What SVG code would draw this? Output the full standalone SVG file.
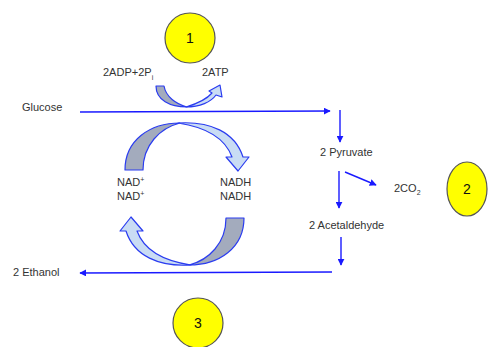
<svg xmlns="http://www.w3.org/2000/svg" width="488" height="347" viewBox="0 0 488 347">
<style>
.t{font-family:"Liberation Sans",Arial,sans-serif;font-size:11px;fill:#333}
.n{font-family:"Liberation Sans",Arial,sans-serif;font-size:14px;fill:#111;text-anchor:middle}
.c{fill:#ffff00;stroke:#555;stroke-width:1.2}
.ln{stroke:#1a1aff;stroke-width:1.4;fill:none}
.g{fill:#a3abbd;stroke:#2a3cf0;stroke-width:1.2;stroke-linejoin:round}
.lb{fill:#c9dcf4;stroke:#2a3cf0;stroke-width:1.2;stroke-linejoin:round}
</style>
<defs>
<marker id="ah" viewBox="0 0 10 10" refX="9" refY="5" markerWidth="7" markerHeight="7" orient="auto" markerUnits="userSpaceOnUse">
<path d="M0,0 L10,5 L0,10 Z" fill="#1a1aff"/>
</marker>
</defs>
<g id="connectors">
<line class="ln" x1="80" y1="112" x2="330" y2="111" marker-end="url(#ah)"/>
<line class="ln" x1="340" y1="110" x2="340" y2="142" marker-end="url(#ah)"/>
<line class="ln" x1="345" y1="172" x2="376" y2="185" marker-end="url(#ah)"/>
<line class="ln" x1="339" y1="171" x2="339" y2="208" marker-end="url(#ah)"/>
<line class="ln" x1="341" y1="237" x2="341" y2="265" marker-end="url(#ah)"/>
<line class="ln" x1="332" y1="272" x2="80" y2="273" marker-end="url(#ah)"/>
</g>
<g id="atp-arrow">
<path class="lb" d="M186,107 C200,107 211,102 216,95 L222,97 L220,85 L209,91 L212,93 C206,100 196,104 186,107 Z"/>
<path class="g" d="M156,86 C156,100 170,107 187,107 C176,104 166,97 164,86 Z"/>
</g>
<g id="nad-top-arrow">
<path class="lb" d="M232,157 L226,157 L238,171 L249,157 L243,157 C235,132 210,121 178,123 C205,127 225,138 232,157 Z"/>
<path class="g" d="M125,170 C125,140 150,123 180,123 C160,128 143,145 143,170 Z"/>
</g>
<g id="nad-bottom-arrow" transform="rotate(180 184.5 194)">
<path class="lb" d="M232,157 L226,157 L238,171 L249,157 L243,157 C235,132 210,121 178,123 C205,127 225,138 232,157 Z"/>
<path class="g" d="M125,170 C125,140 150,123 180,123 C160,128 143,145 143,170 Z"/>
</g>
<g id="circle1"><circle class="c" cx="190" cy="38" r="25"/><text class="n" x="190" y="43">1</text></g>
<g id="circle2"><ellipse class="c" cx="467" cy="189" rx="20" ry="27"/><text class="n" x="467" y="194">2</text></g>
<g id="circle3"><circle class="c" cx="198" cy="323" r="25"/><text class="n" x="198" y="328">3</text></g>
<g id="glucose"><text class="t" x="22" y="111">Glucose</text></g>
<g id="ethanol"><text class="t" x="13" y="276">2 Ethanol</text></g>
<g id="adp"><text class="t" x="103" y="76">2ADP+2P<tspan font-size="7" dy="4">i</tspan></text></g>
<g id="atp"><text class="t" x="202" y="76">2ATP</text></g>
<g id="nad"><text class="t" x="117" y="186">NAD<tspan font-size="7" dy="-4">+</tspan></text><text class="t" x="117" y="200">NAD<tspan font-size="7" dy="-4">+</tspan></text></g>
<g id="nadh"><text class="t" x="220" y="186">NADH</text><text class="t" x="220" y="200">NADH</text></g>
<g id="pyruvate"><text class="t" x="320" y="156">2 Pyruvate</text></g>
<g id="co2"><text class="t" x="394" y="192">2CO<tspan font-size="7" dy="3">2</tspan></text></g>
<g id="acetaldehyde"><text class="t" x="309" y="229">2 Acetaldehyde</text></g>
</svg>
